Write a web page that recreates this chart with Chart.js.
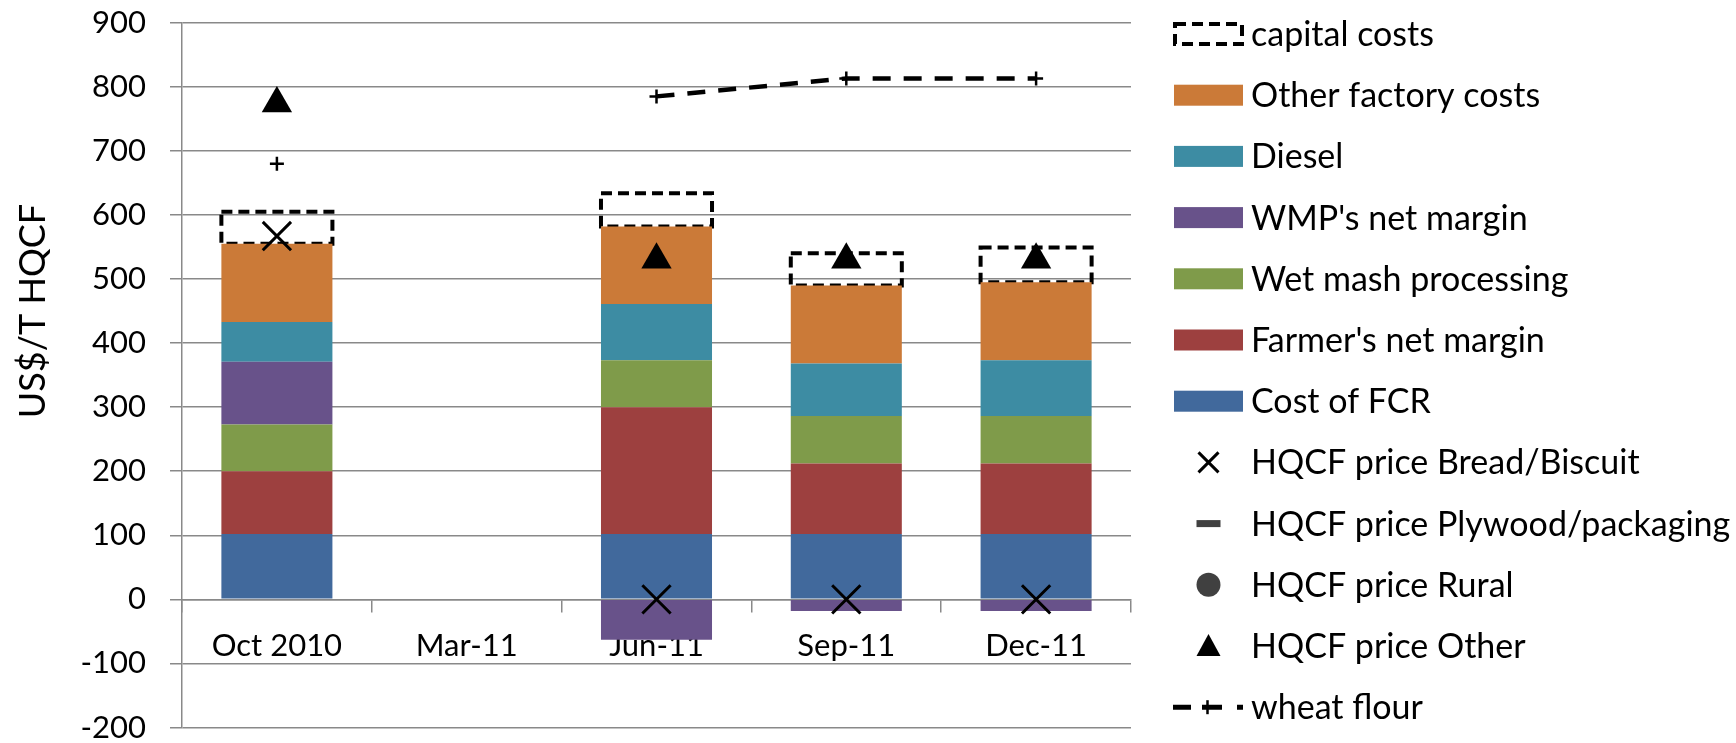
<!DOCTYPE html>
<html>
<head>
<meta charset="utf-8">
<style>
  html, body { margin: 0; padding: 0; background: #fff; }
  #wrap { width: 1736px; height: 743px; }
</style>
</head>
<body>
<div id="wrap"><canvas id="chart" width="1736" height="743"></canvas></div>
<script src="https://cdn.jsdelivr.net/npm/chart.js@4/dist/chart.umd.min.js"></script>
<script>
// values (US$/T HQCF)
const categories = ['Oct 2010', 'Mar-11', 'Jun-11', 'Sep-11', 'Dec-11'];
const costOfFcr     = [102, null, 102, 102, 102];
const farmerMargin  = [98, null, 198, 110, 110];
const wetMash       = [73, null, 73, 74, 74];
const wmpMargin     = [98, null, -63, -18, -18];
const diesel        = [62, null, 88, 82, 87];
const otherFactory  = [122, null, 121, 122, 122];
const capitalCosts  = [50, null, 52, 50, 54];
const priceBread    = [567, null, 0, 0, 0];
const pricePlywood  = [null, null, null, null, null];
const priceRural    = [null, null, null, null, null];
const priceOther    = [774, null, 530, 530, 530];
const wheatFlour    = [680, null, 785, 813, 813];
const yTicks = { min: -200, max: 900, step: 100 };
const yAxisTitle = 'US$/T HQCF';

const GRID = '#898989';
const TEXT_FONT = 'Lato';
const TICK_FONT = { family: TEXT_FONT, size: 31 };

const bar = (label, data, color) => ({
  type: 'bar', label, data, backgroundColor: color, borderWidth: 0,
  categoryPercentage: 1, barPercentage: 0.585, order: 2, legendKind: 'box'
});
const marks = (label, data, style, kind, stack, extra) => Object.assign({
  type: 'line', label, data, stack, showLine: false, order: 1,
  pointStyle: style, pointRadius: 18, pointBorderWidth: 3,
  pointBackgroundColor: '#000', pointBorderColor: '#000', borderColor: '#000',
  legendKind: kind
}, extra || {});

const datasets = [
  bar('Cost of FCR', costOfFcr, '#41699c'),
  bar("Farmer's net margin", farmerMargin, '#9d403f'),
  bar('Wet mash processing', wetMash, '#7f9b4a'),
  bar("WMP's net margin", wmpMargin, '#68528a'),
  bar('Diesel', diesel, '#3d8ca3'),
  bar('Other factory costs', otherFactory, '#cb7a38'),
  Object.assign(bar('capital costs', capitalCosts, 'rgba(0,0,0,0)'), { dashedBox: true, legendKind: 'dashed' }),
  marks('HQCF price Bread/Biscuit', priceBread, 'crossRot', 'x', 's1', { pointRadius: 20 }),
  marks('HQCF price Plywood/packaging', pricePlywood, 'line', 'dash', 's2'),
  marks('HQCF price Rural', priceRural, 'circle', 'circle', 's3'),
  marks('HQCF price Other', priceOther, 'triangle', 'triangle', 's4', { pointRadius: 17.5, pointBorderWidth: 0 }),
  marks('wheat flour', wheatFlour, 'cross', 'wheat', 's5', {
    showLine: true, borderWidth: 4.5, borderDash: [18, 13], pointRadius: 7, pointBorderWidth: 2.5
  })
];

// dashed outline for the capital costs segment, drawn right after that dataset
const dashedBoxes = {
  id: 'dashedBoxes',
  afterDatasetDraw(chart, args) {
    const ds = chart.data.datasets[args.index];
    if (!ds.dashedBox) return;
    const ctx = chart.ctx;
    ctx.save();
    ctx.strokeStyle = '#000';
    ctx.lineWidth = 4;
    ctx.setLineDash([11, 6]);
    args.meta.data.forEach((el, i) => {
      if (ds.data[i] == null) return;
      const p = el.getProps(['x', 'y', 'base', 'width'], true);
      ctx.strokeRect(p.x - p.width / 2, Math.min(p.y, p.base), p.width, Math.abs(p.base - p.y));
    });
    ctx.restore();
  }
};

// legend on the right (same order as the reference) + rotated y title
const sideLegend = {
  id: 'sideLegend',
  afterDraw(chart) {
    const ctx = chart.ctx;
    const order = [6, 5, 4, 3, 2, 1, 0, 7, 8, 9, 10, 11];
    const boxX = 1174, boxW = 69, textX = 1251, firstY = 34, gap = 61.2;
    const cx = boxX + boxW / 2;
    ctx.save();
    order.forEach((di, row) => {
      const ds = chart.data.datasets[di];
      const y = firstY + row * gap;
      ctx.setLineDash([]);
      ctx.fillStyle = '#000';
      ctx.strokeStyle = '#000';
      if (ds.legendKind === 'box') {
        ctx.fillStyle = ds.backgroundColor;
        ctx.fillRect(boxX, y - 10.5, boxW, 21);
      } else if (ds.legendKind === 'dashed') {
        ctx.lineWidth = 4;
        ctx.setLineDash([11, 6]);
        ctx.strokeRect(boxX + 1, y - 10, boxW - 2, 20);
      } else if (ds.legendKind === 'x') {
        ctx.lineWidth = 3;
        ctx.beginPath();
        ctx.moveTo(cx - 10, y - 10); ctx.lineTo(cx + 10, y + 10);
        ctx.moveTo(cx + 10, y - 10); ctx.lineTo(cx - 10, y + 10);
        ctx.stroke();
      } else if (ds.legendKind === 'dash') {
        ctx.fillStyle = '#404040';
        ctx.fillRect(cx - 12, y - 3.5, 24, 7);
      } else if (ds.legendKind === 'circle') {
        ctx.fillStyle = '#404040';
        ctx.beginPath();
        ctx.arc(cx, y, 12, 0, Math.PI * 2);
        ctx.fill();
      } else if (ds.legendKind === 'triangle') {
        ctx.beginPath();
        ctx.moveTo(cx, y - 12); ctx.lineTo(cx + 12, y + 10); ctx.lineTo(cx - 12, y + 10);
        ctx.closePath();
        ctx.fill();
      } else if (ds.legendKind === 'wheat') {
        ctx.lineWidth = 5;
        ctx.setLineDash([18, 11, 20, 15, 6, 100]);
        ctx.beginPath();
        ctx.moveTo(boxX - 1, y); ctx.lineTo(boxX + boxW, y);
        ctx.stroke();
        ctx.setLineDash([]);
        ctx.lineWidth = 2.5;
        ctx.beginPath();
        ctx.moveTo(cx - 1, y - 7); ctx.lineTo(cx - 1, y + 7);
        ctx.stroke();
      }
      ctx.fillStyle = '#000';
      ctx.font = '34px ' + TEXT_FONT;
      ctx.textAlign = 'left';
      ctx.textBaseline = 'middle';
      ctx.fillText(ds.label, textX, y + 1);
    });
    ctx.translate(33, 311);
    ctx.rotate(-Math.PI / 2);
    ctx.font = '36px ' + TEXT_FONT;
    ctx.textAlign = 'center';
    ctx.fillText(yAxisTitle, 0, 0);
    ctx.restore();
  }
};

new Chart(document.getElementById('chart').getContext('2d'), {
  type: 'bar',
  data: { labels: categories, datasets },
  options: {
    responsive: false,
    animation: false,
    layout: { autoPadding: false, padding: { left: 0, right: 605, top: 22.7, bottom: 15.5 } },
    plugins: { legend: { display: false }, tooltip: { enabled: false } },
    scales: {
      x: {
        stacked: true,
        position: { y: 0 },
        grid: { drawOnChartArea: false, drawTicks: true, tickLength: 12, offset: true, color: GRID, lineWidth: 1.5 },
        border: { display: true, color: GRID, width: 1.5 },
        ticks: { font: TICK_FONT, color: '#000', padding: 16, maxRotation: 0, autoSkip: false }
      },
      y: {
        stacked: true,
        min: yTicks.min,
        max: yTicks.max,
        afterFit(scale) {
          scale.width = 182;
          scale.paddingTop = 0;
          scale.paddingBottom = 0;
        },
        grid: { color: GRID, lineWidth: 1.5, tickLength: 12 },
        border: { display: true, color: GRID, width: 1.5 },
        ticks: { stepSize: yTicks.step, font: TICK_FONT, color: '#000', padding: 24 }
      }
    }
  },
  plugins: [dashedBoxes, sideLegend]
});
</script>
</body>
</html>
